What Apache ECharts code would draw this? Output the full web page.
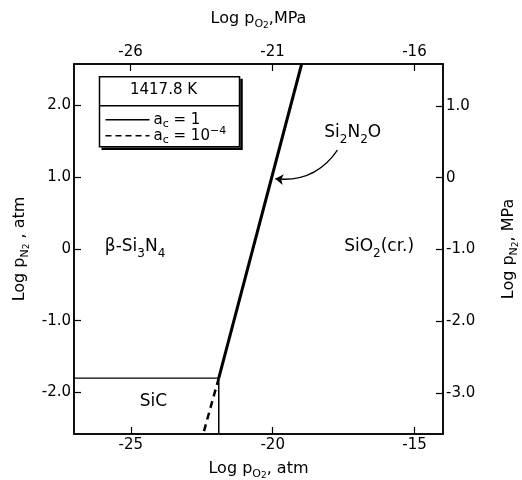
<!DOCTYPE html>
<html>
<head>
<meta charset="utf-8">
<title>Si-N-O-C stability diagram, 1417.8 K</title>
<script src="https://cdn.jsdelivr.net/npm/echarts@6/dist/echarts.min.js"></script>
<style>
  html, body { margin: 0; padding: 0; background: #fff; }
  #chart { width: 522px; height: 480px; }
</style>
</head>
<body>
<div id="chart"></div>
<script>
// axes: log pO2 (atm) horizontal, log pN2 (atm) vertical
const xRange = [-27, -14]
const yRange = [-2.58, 2.58]
const xTicks = [-25, -20, -15]
const yTicks = [-2, -1, 0, 1, 2]
const xTicksMPa = [-26, -21, -16]
const yTicksMPa = [-3, -2, -1, 0, 1]
// log10(1 atm in MPa)
const MPA = Math.log10(0.101325)

// phase boundaries
const boundaryAc1 = [[-21.9, -1.8], [-18.98, 2.58]]
const boundaryAc4 = [[-21.9, -1.8], [-22.45, -2.58]]
const sicTop = [[-27, -1.8], [-21.9, -1.8]]
const sicRight = [[-21.9, -1.8], [-21.9, -2.58]]

// phase fields
const phaseNames = [
  '{b|β-Si}{s|3}{b|N}{s|4}',
  '{b|SiO}{s|2}{b|(cr.)}',
  '{b|Si}{s|2}{b|N}{s|2}{b|O}',
  '{b|SiC}'
]
const phasePos = [[-24.85, 0.03], [-16.25, 0.03], [-17.18, 1.62], [-24.2, -2.13]]
const arrowLine = [[-17.72, 1.38], [-19.91, 0.98]]

const FONT = 'DejaVu Sans'
const subRich = {
  b: { fontFamily: FONT, fontSize: 16, color: '#000', verticalAlign: 'middle' },
  s: { fontFamily: FONT, fontSize: 11, color: '#000', verticalAlign: 'bottom' },
  ss: { fontFamily: FONT, fontSize: 9, color: '#000', verticalAlign: 'bottom' }
}
const phaseRich = {
  b: { fontFamily: FONT, fontSize: 17, color: '#000', lineHeight: 26, verticalAlign: 'middle', textBorderWidth: 0 },
  s: { fontFamily: FONT, fontSize: 12, color: '#000', verticalAlign: 'bottom', textBorderWidth: 0 }
}

function fmtY (v) {
  return v === 0 ? '0' : v.toFixed(1)
}

function boundary (data, width, dashed) {
  return {
    type: 'line',
    data: data,
    symbol: 'none',
    silent: true,
    lineStyle: { color: '#000', width: width, type: dashed ? [7, 5] : 'solid' },
    z: 3
  }
}

const axisCommon = {
  type: 'value',
  axisLine: { show: true, onZero: false, lineStyle: { color: '#000', width: 1.5 } },
  axisTick: { show: true, inside: true, length: 7, lineStyle: { color: '#000', width: 1.2 } },
  splitLine: { show: false },
  nameMoveOverlap: false
}

const chart = echarts.init(document.getElementById('chart'))
chart.setOption({
  animation: false,
  backgroundColor: '#fff',
  grid: {
    left: 74, right: 79, top: 64, bottom: 46,
    show: true, borderColor: '#000', borderWidth: 1.5,
    containLabel: false, outerBoundsMode: 'none'
  },
  xAxis: [
    Object.assign({}, axisCommon, {
      position: 'bottom',
      min: xRange[0], max: xRange[1],
      axisTick: Object.assign({}, axisCommon.axisTick, { customValues: xTicks }),
      axisLabel: { customValues: xTicks, margin: 4, fontFamily: FONT, fontSize: 15, color: '#000' },
      name: '{b|Log p}{s|O}{ss|2}{b|, atm}',
      nameLocation: 'middle',
      nameGap: 24,
      nameTextStyle: { rich: subRich, lineHeight: 22 }
    }),
    Object.assign({}, axisCommon, {
      position: 'top',
      min: xRange[0] + MPA, max: xRange[1] + MPA,
      axisTick: Object.assign({}, axisCommon.axisTick, { customValues: xTicksMPa }),
      axisLabel: { customValues: xTicksMPa, margin: 4, fontFamily: FONT, fontSize: 15, color: '#000' },
      name: '{b|Log p}{s|O}{ss|2}{b|,MPa}',
      nameLocation: 'middle',
      nameGap: 34,
      nameTextStyle: { rich: subRich, lineHeight: 22 }
    })
  ],
  yAxis: [
    Object.assign({}, axisCommon, {
      position: 'left',
      min: yRange[0], max: yRange[1],
      axisTick: Object.assign({}, axisCommon.axisTick, { customValues: yTicks }),
      axisLabel: { customValues: yTicks, margin: 3, formatter: fmtY, fontFamily: FONT, fontSize: 15, color: '#000' },
      name: '{b|Log p}{s|N}{ss|2}{b| , atm}',
      nameLocation: 'middle',
      nameGap: 43,
      nameTextStyle: { rich: subRich, lineHeight: 22 }
    }),
    Object.assign({}, axisCommon, {
      position: 'right',
      min: yRange[0] + MPA, max: yRange[1] + MPA,
      axisTick: Object.assign({}, axisCommon.axisTick, { customValues: yTicksMPa }),
      axisLabel: { customValues: yTicksMPa, margin: 3, formatter: fmtY, fontFamily: FONT, fontSize: 15, color: '#000' },
      name: '{b|Log p}{s|N}{ss|2}{b|, MPa}',
      nameLocation: 'middle',
      nameGap: 55,
      nameTextStyle: { rich: subRich, lineHeight: 22 }
    })
  ],
  series: [
    boundary(boundaryAc1, 3, false),
    boundary(boundaryAc4, 2.5, true),
    boundary(sicTop, 1.3, false),
    boundary(sicRight, 1.5, false),
    {
      type: 'lines',
      coordinateSystem: 'cartesian2d',
      silent: true,
      symbol: ['none', 'arrow'],
      symbolSize: 8,
      lineStyle: { color: '#000', width: 1.3, curveness: 0.3, opacity: 1 },
      data: [{ coords: arrowLine }],
      z: 4
    },
    {
      type: 'scatter',
      silent: true,
      symbolSize: 0,
      itemStyle: { color: '#000', opacity: 1 },
      data: phasePos.map((p, i) => ({ value: p, name: phaseNames[i] })),
      label: {
        show: true,
        position: 'inside',
        color: '#000',
        textBorderWidth: 0,
        formatter: p => p.name,
        rich: phaseRich
      },
      z: 5
    }
  ],
  graphic: [{
    type: 'group',
    left: 97,
    top: 76,
    children: [
      { type: 'rect', shape: { x: 0, y: 0, width: 140, height: 70 }, style: { fill: '#fff', stroke: '#000', lineWidth: 1.5 } },
      { type: 'polyline', shape: { points: [[142, 2], [142, 72], [2, 72]] }, style: { fill: null, stroke: '#000', lineWidth: 2.5 } },
      { type: 'text', x: 64, y: 13, style: { text: '1417.8 K', fontFamily: FONT, fontSize: 15, fill: '#000', align: 'center', verticalAlign: 'middle' } },
      { type: 'line', shape: { x1: 0, y1: 29, x2: 140, y2: 29 }, style: { stroke: '#000', lineWidth: 1.3 } },
      { type: 'line', shape: { x1: 6, y1: 43, x2: 50, y2: 43 }, style: { stroke: '#000', lineWidth: 1.5 } },
      {
        type: 'text', x: 54, y: 43,
        style: {
          text: '{a|a}{c|c}{a| = 1}', verticalAlign: 'middle',
          rich: { a: { fontFamily: FONT, fontSize: 15, fill: '#000', lineHeight: 20 }, c: { fontFamily: FONT, fontSize: 11, fill: '#000', verticalAlign: 'bottom' } }
        }
      },
      { type: 'line', shape: { x1: 6, y1: 59, x2: 50, y2: 59 }, style: { stroke: '#000', lineWidth: 1.5, lineDash: [6, 4] } },
      {
        type: 'text', x: 54, y: 59,
        style: {
          text: '{a|a}{c|c}{a| = 10}{e|−4}', verticalAlign: 'middle',
          rich: {
            a: { fontFamily: FONT, fontSize: 15, fill: '#000', lineHeight: 20 },
            c: { fontFamily: FONT, fontSize: 11, fill: '#000', verticalAlign: 'bottom' },
            e: { fontFamily: FONT, fontSize: 11, fill: '#000', verticalAlign: 'top' }
          }
        }
      }
    ]
  }]
})
</script>
</body>
</html>
